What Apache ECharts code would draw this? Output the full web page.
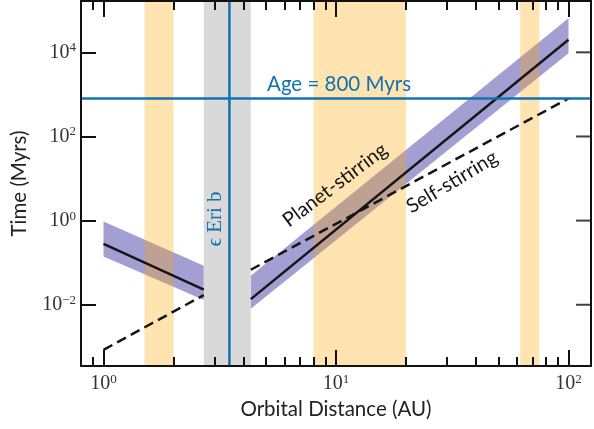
<!DOCTYPE html>
<html>
<head>
<meta charset="utf-8">
<script src="https://cdn.jsdelivr.net/npm/echarts@6/dist/echarts.min.js"></script>
<style>
  html, body { margin: 0; padding: 0; background: #fff; }
  #main { width: 594px; height: 429px; }
</style>
</head>
<body>
<div id="main"></div>
<script>
// axis ranges and ticks
var xRange = [0.8, 125];
var yRange = [3.5e-4, 1.66e5];
var xMajorTicks = [1, 10, 100];
var xMinorTicks = [0.9, 2, 3, 4, 5, 6, 7, 8, 9, 20, 30, 40, 50, 60, 70, 80, 90];
var yMajorTicks = [1e-2, 1, 1e2, 1e4];

// planet-stirring timescale (inside / outside of eps Eri b)
var planetInnerX = [1, 2.7];
var planetInnerT = [0.28, 0.023];
var planetInnerHi = [0.95, 0.085];
var planetInnerLo = [0.14, 0.013];
var planetOuterX = [4.3, 100];
var planetOuterT = [0.0136, 2.0e4];
var planetOuterHi = [0.049, 6.5e4];
var planetOuterLo = [0.008, 9.5e3];

// self-stirring timescale
var selfInnerX = [1, 2.7];
var selfInnerT = [8.5e-4, 0.017];
var selfOuterX = [4.3, 100];
var selfOuterT = [0.068, 800];

// shaded regions (AU)
var beltSpans = [[1.5, 2], [8, 20], [62, 75]];
var chaoticSpan = [[2.7, 4.3]];
var planetA = 3.48;
var systemAge = 800;

var blue = '#1172b0';
var ink = '#151515';

var dom = document.getElementById('main');
var chart = echarts.init(dom);

function pairs(xs, ys) {
    var out = [];
    for (var i = 0; i < xs.length; i++) out.push([xs[i], ys[i]]);
    return out;
}

function expLabel(v) {
    var e = Math.round(Math.log10(v));
    var s = e < 0 ? '\u2212' + (-e) : '' + e;
    return '{b|10}{s|' + s + '}';
}

var labelRich = {
    b: { fontFamily: 'Liberation Serif', fontSize: 20, color: '#333' },
    s: { fontFamily: 'Liberation Serif', fontSize: 13, color: '#333', padding: [0, 0, 9, 0] }
};

function bandSeries(xs, lo, hi) {
    return {
        type: 'custom',
        z: 1,
        silent: true,
        data: pairs(xs, lo),
        renderItem: function (params, api) {
            if (params.dataIndex !== 0) return;
            var pts = [];
            for (var i = 0; i < xs.length; i++) pts.push(api.coord([xs[i], hi[i]]));
            for (var j = xs.length - 1; j >= 0; j--) pts.push(api.coord([xs[j], lo[j]]));
            return { type: 'polygon', shape: { points: pts },
                     style: { fill: 'rgba(88,80,175,0.55)' } };
        }
    };
}

function spanSeries(spans, color, z) {
    return {
        type: 'custom',
        z: z,
        silent: true,
        data: spans,
        encode: { x: [0, 1] },
        renderItem: function (params, api) {
            var a = api.coord([api.value(0), yRange[1]]);
            var b = api.coord([api.value(1), yRange[0]]);
            return { type: 'rect', shape: { x: a[0], y: a[1], width: b[0] - a[0], height: b[1] - a[1] },
                     style: { fill: color } };
        }
    };
}

function lineSeries(data, dashed, color, z) {
    return {
        type: 'line',
        z: z,
        silent: true,
        symbol: 'none',
        data: data,
        lineStyle: { color: color, width: 2.5, type: dashed ? [10, 5.5] : 'solid' }
    };
}

function xAxisDef(pos, ticks, len, labels) {
    return {
        type: 'log', logBase: 10, position: pos, z: 10,
        min: xRange[0], max: xRange[1],
        axisLine: { show: true, lineStyle: { color: '#111', width: 2 } },
        axisTick: { show: true, inside: true, length: len, customValues: ticks,
                    lineStyle: { color: '#111', width: 2 } },
        axisLabel: labels ? { show: true, margin: 7, customValues: ticks,
                    formatter: expLabel, rich: labelRich } : { show: false, customValues: ticks },
        splitLine: { show: false },
        minorTick: { show: false },
        name: labels ? 'Orbital Distance (AU)' : '',
        nameLocation: 'middle',
        nameGap: 33,
        nameTextStyle: { fontFamily: 'Lato', fontSize: 20.5, color: '#222' }
    };
}

function yAxisDef(pos, labels) {
    return {
        type: 'log', logBase: 10, position: pos, z: 10,
        min: yRange[0], max: yRange[1],
        axisLine: { show: true, lineStyle: { color: '#111', width: 2 } },
        axisTick: { show: labels, inside: true, length: 15, customValues: yMajorTicks,
                    lineStyle: { color: '#111', width: 2 } },
        axisLabel: labels ? { show: true, margin: 5, customValues: yMajorTicks,
                    formatter: expLabel, rich: labelRich } : { show: false },
        splitLine: { show: false },
        minorTick: { show: false },
        name: labels ? 'Time (Myrs)' : '',
        nameLocation: 'middle',
        nameGap: 51,
        nameTextStyle: { fontFamily: 'Lato', fontSize: 20.5, color: '#222' }
    };
}

var option = {
    backgroundColor: '#fff',
    animation: false,
    grid: { left: 81, right: 3, top: 1, bottom: 63, containLabel: false, outerBoundsMode: 'none' },
    xAxis: [
        xAxisDef('bottom', xMajorTicks, 16, true),
        xAxisDef('bottom', xMinorTicks, 9, false),
        xAxisDef('top', xMajorTicks, 16, false),
        xAxisDef('top', xMinorTicks, 9, false)
    ],
    yAxis: [yAxisDef('left', true), yAxisDef('right', false)],
    series: [
        bandSeries(planetInnerX, planetInnerLo, planetInnerHi),
        bandSeries(planetOuterX, planetOuterLo, planetOuterHi),
        spanSeries(chaoticSpan, '#d9d9d9', 2),
        spanSeries(beltSpans, 'rgba(255,165,0,0.3)', 2),
        lineSeries(pairs(planetInnerX, planetInnerT), false, ink, 3),
        lineSeries(pairs(planetOuterX, planetOuterT), false, ink, 3),
        lineSeries(pairs(selfInnerX, selfInnerT), true, ink, 3),
        lineSeries(pairs(selfOuterX, selfOuterT), true, ink, 3),
        lineSeries([[planetA, yRange[0]], [planetA, yRange[1]]], false, blue, 4),
        lineSeries([[xRange[0], systemAge], [xRange[1], systemAge]], false, blue, 4),
        {
            // inward ticks on the right spine
            type: 'scatter',
            z: 10,
            silent: true,
            clip: false,
            symbol: 'rect',
            symbolSize: [15, 2],
            symbolOffset: [-7.5, 0],
            itemStyle: { color: '#111' },
            data: yMajorTicks.map(function (v) { return [xRange[1], v]; })
        }
    ],
    graphic: [
        { type: 'text', x: 267, y: 84, z: 20,
          style: { text: 'Age = 800 Myrs', font: '20.5px Lato', fill: blue,
                   align: 'left', verticalAlign: 'middle' } },
        { type: 'text', x: 215.5, y: 219, rotation: Math.PI / 2, z: 20,
          style: { text: '\u03f5 Eri b', font: '21px "Liberation Serif"', fill: blue,
                   align: 'center', verticalAlign: 'middle' } },
        { type: 'text', x: 335, y: 185, rotation: 37 * Math.PI / 180, z: 20,
          style: { text: 'Planet-stirring', font: '20px Lato', fill: ink,
                   align: 'center', verticalAlign: 'middle' } },
        { type: 'text', x: 452, y: 182, rotation: 31 * Math.PI / 180, z: 20,
          style: { text: 'Self-stirring', font: '20px Lato', fill: ink,
                   align: 'center', verticalAlign: 'middle' } }
    ]
};

if (option && typeof option === 'object') {
    chart.setOption(option, true);
}
window.onresize = function () {
    chart.resize();
};
</script>
</body>
</html>
